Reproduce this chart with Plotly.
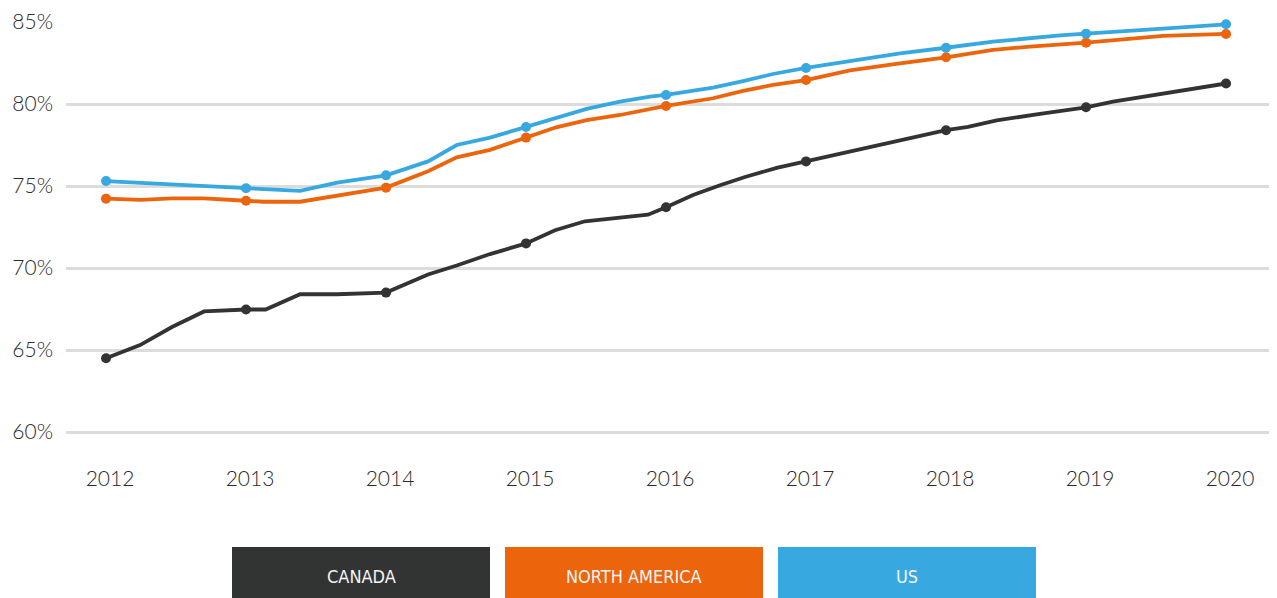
import plotly.graph_objects as go

# ---------------- data ----------------
series_names = ["CANADA", "NORTH AMERICA", "US"]
series_colors = ["#323433", "#EC640C", "#38A8E0"]

canada_x = [2012.0, 2012.243, 2012.471, 2012.7, 2013.0, 2013.14, 2013.386, 2013.648, 2014.0,
            2014.3, 2014.505, 2014.743, 2015.0, 2015.207, 2015.421, 2015.671, 2015.871, 2016.0,
            2016.193, 2016.386, 2016.564, 2016.79, 2017.0, 2017.243, 2017.493, 2017.743, 2018.0,
            2018.157, 2018.362, 2018.671, 2019.0, 2019.193, 2019.529, 2019.779, 2020.0]
canada_y = [64.5, 65.3, 66.4, 67.35, 67.47, 67.47, 68.4, 68.4, 68.5,
            69.6, 70.15, 70.85, 71.5, 72.3, 72.85, 73.05, 73.25, 73.7,
            74.45, 75.05, 75.55, 76.1, 76.5, 77.0, 77.45, 77.9, 78.4,
            78.6, 79.0, 79.4, 79.8, 80.15, 80.6, 80.95, 81.25]

na_x = [2012.0, 2012.25, 2012.471, 2012.7, 2013.0, 2013.125, 2013.386, 2014.0,
        2014.3, 2014.505, 2014.743, 2015.0, 2015.215, 2015.433, 2015.671, 2016.0,
        2016.336, 2016.55, 2016.764, 2017.0, 2017.314, 2017.671, 2018.0, 2018.336,
        2018.6, 2019.0, 2019.29, 2019.55, 2020.0]
na_y = [74.23, 74.15, 74.25, 74.25, 74.1, 74.04, 74.04, 74.9,
        75.9, 76.75, 77.2, 77.95, 78.58, 79.02, 79.33, 79.88,
        80.35, 80.8, 81.16, 81.46, 82.05, 82.48, 82.85, 83.3,
        83.5, 83.74, 83.94, 84.15, 84.27]

us_x = [2012.0, 2013.0, 2013.386, 2013.65, 2014.0, 2014.3, 2014.505, 2014.743, 2015.0,
        2015.215, 2015.433, 2015.671, 2015.886, 2016.0, 2016.121, 2016.336, 2016.55,
        2016.764, 2017.0, 2017.314, 2017.671, 2018.0, 2018.336, 2018.836, 2019.0,
        2019.29, 2019.55, 2020.0]
us_y = [75.3, 74.86, 74.7, 75.2, 75.65, 76.5, 77.5, 77.95, 78.6,
        79.2, 79.7, 80.14, 80.45, 80.55, 80.7, 81.0, 81.4,
        81.83, 82.2, 82.6, 83.09, 83.43, 83.8, 84.2, 84.29,
        84.41, 84.6, 84.86]

year_ticks = [2012, 2013, 2014, 2015, 2016, 2017, 2018, 2019, 2020]
year_labels = ["2012", "2013", "2014", "2015", "2016", "2017", "2018", "2019", "2020"]
pct_ticks = [60, 65, 70, 75, 80, 85]
pct_labels = ["60%", "65%", "70%", "75%", "80%", "85%"]

# ---------------- figure ----------------
fig = go.Figure()
all_x = [canada_x, na_x, us_x]
all_y = [canada_y, na_y, us_y]
for name, color, xs, ys in zip(series_names, series_colors, all_x, all_y):
    fig.add_trace(go.Scatter(x=xs, y=ys, mode="lines", name=name,
                             line=dict(color=color, width=3.8), cliponaxis=False,
                             hoverinfo="skip", showlegend=False))
    mx = [x for x in xs if abs(x - round(x)) < 1e-6]
    my = [y for x, y in zip(xs, ys) if abs(x - round(x)) < 1e-6]
    fig.add_trace(go.Scatter(x=mx, y=my, mode="markers", name=name,
                             marker=dict(color=color, size=10), cliponaxis=False,
                             showlegend=False))

tick_font = dict(family="Lato, Roboto, sans-serif", size=21, color="#2a2a2a", weight=300)

fig.update_xaxes(range=[2011.714, 2020.364], tickvals=year_ticks, ticktext=year_labels,
                 showgrid=False, zeroline=False, showline=False, ticks="", automargin=False,
                 tickfont=tick_font, ticklabelstandoff=29, ticklabelshift=4)
fig.update_yaxes(range=[59.817, 85.0], tickvals=pct_ticks, ticktext=pct_labels,
                 showgrid=True, gridcolor="#dcdcdc", gridwidth=3, zeroline=False, automargin=False,
                 showline=False, ticks="", tickfont=tick_font, ticklabelstandoff=12)

# legend boxes (page pixel positions; page has an 8px body offset)
off = 8
box_x = [(232, 490), (505, 763), (778, 1036)]
mb = 171
plot_l, plot_w = 66 - off, 1211
plot_b = 598 - mb              # figure px
plot_h = plot_b - (22 - off)
shapes = []
annotations = []
for (x0, x1), name, color in zip(box_x, series_names, series_colors):
    px0 = (x0 - off - plot_l) / plot_w
    px1 = (x1 - off - plot_l) / plot_w
    py0 = (plot_b - 600) / plot_h
    py1 = (plot_b - (547 - off)) / plot_h
    shapes.append(dict(type="rect", xref="paper", yref="paper", x0=px0, x1=px1,
                       y0=py0, y1=py1, fillcolor=color, line=dict(width=0), layer="above"))
    annotations.append(dict(xref="paper", yref="paper", x=(px0 + px1) / 2,
                            y=(plot_b - (576 - off)) / plot_h, text=name, showarrow=False,
                            xanchor="center", yanchor="middle",
                            font=dict(family="Liberation Sans Narrow, DejaVu Sans Condensed, sans-serif",
                                      size=18, color="#f4f4f4")))

fig.update_layout(width=1277, height=598, margin=dict(l=66 - off, r=off, t=22 - off, b=mb),
                  plot_bgcolor="#ffffff", paper_bgcolor="#ffffff",
                  shapes=shapes, annotations=annotations, showlegend=False)

fig.write_html("out.html")
